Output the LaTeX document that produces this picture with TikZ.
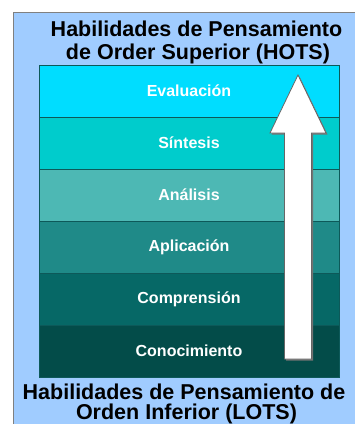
\documentclass[tikz,border=0pt]{standalone}
\usepackage{fontspec}
\setmainfont{Liberation Sans}

\definecolor{backblue}{HTML}{A0CCFF}
\definecolor{lineteal}{HTML}{0D5959}
\definecolor{levA}{HTML}{00DDFF}
\definecolor{levB}{HTML}{00CCCC}
\definecolor{levC}{HTML}{4DB8B4}
\definecolor{levD}{HTML}{1F8A88}
\definecolor{levE}{HTML}{066866}
\definecolor{levF}{HTML}{034C49}

\tikzstyle{layer}=[draw=lineteal, line width=0.8pt, minimum width=300pt, minimum height=52pt,
  inner sep=0pt, text=white, font=\fontsize{16}{19}\selectfont\bfseries]
\tikzstyle{heading}=[anchor=base, inner sep=0pt, font=\fontsize{21.5}{24}\selectfont\bfseries]
\tikzstyle{bigarrow}=[fill=white, draw=gray!80!black, line width=0.8pt, line join=miter]

\begin{document}
\begin{tikzpicture}[x=1pt, y=-1pt]
  \useasboundingbox (0,0) rectangle (355,424);
  \clip (0,0) rectangle (355,424);
  \fill[white] (0,0) rectangle (355,424);
  \draw[fill=backblue, draw=gray, line width=1.5pt] (13.5,12.5) rectangle (370,440);

  \node[heading] (hots1) at (196.5,36) {Habilidades de Pensamiento};
  \node[heading] (hots2) at (198,59) {de Order Superior (HOTS)};

  \node[layer, fill=levA] (evaluacion) at (189,91) {Evaluación};
  \node[layer, fill=levB] (sintesis) at (189,143) {Síntesis};
  \node[layer, fill=levC] (analisis) at (189,195) {Análisis};
  \node[layer, fill=levD] (aplicacion) at (189,247) {Aplicación};
  \node[layer, fill=levE] (comprension) at (189,299) {Comprensión};
  \node[layer, fill=levF] (conocimiento) at (189,351) {Conocimiento};

  % shadow and arrow
  \fill[black!55] (299.5,76.5) -- (327.5,134.5) -- (313,134.5) -- (313,360.5)
    -- (286,360.5) -- (286,134.5) -- (271.5,134.5) -- cycle;
  \draw[bigarrow] (298,75) -- (326,133) -- (311.5,133) -- (311.5,359)
    -- (284.5,359) -- (284.5,133) -- (270,133) -- cycle;

  \node[heading] (lots1) at (184,399) {Habilidades de Pensamiento de};
  \node[heading] (lots2) at (186.5,419) {Orden Inferior (LOTS)};
\end{tikzpicture}
\end{document}
